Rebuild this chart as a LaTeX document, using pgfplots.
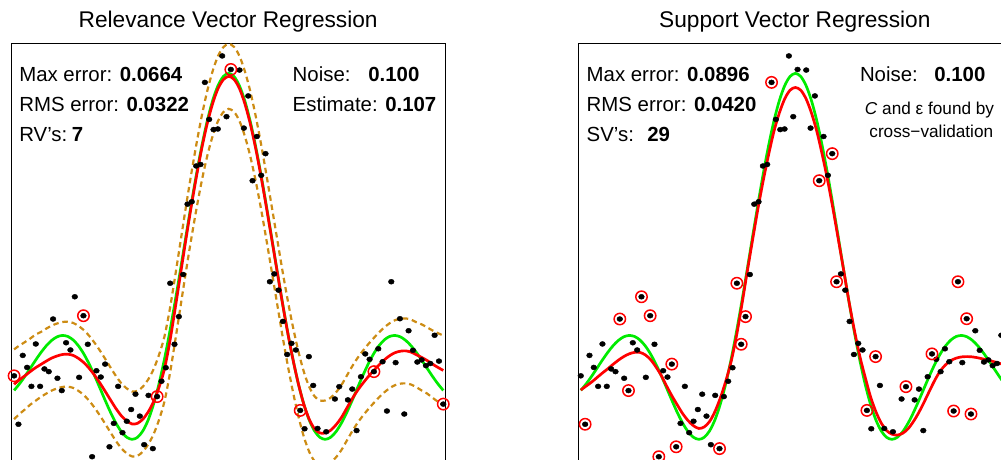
\documentclass[border=0pt]{standalone}
\usepackage{pgfplots}
\pgfplotsset{compat=1.18}
\usepackage{pgfplotstable}
\usepackage{fontspec}
\setmainfont{Liberation Sans}

\definecolor{sincgreen}{RGB}{0,235,0}
\definecolor{fitred}{RGB}{255,0,0}
\definecolor{bandorange}{RGB}{205,140,20}

% x, true sinc (g), RVR fit (r), RVR upper/lower error bars (u,l), SVR fit (s)
\pgfplotstableread{
x g r u l s
-10 -0.0544 -0.034 0.082 -0.150 -0.053
-9.75 -0.0327 -0.019 0.095 -0.133 -0.040
-9.5 -0.0079 -0.006 0.106 -0.118 -0.027
-9.25 0.0188 0.008 0.118 -0.102 -0.012
-9 0.0458 0.021 0.131 -0.089 0.003
-8.75 0.0714 0.032 0.140 -0.076 0.017
-8.5 0.0939 0.043 0.151 -0.065 0.032
-8.25 0.1118 0.053 0.161 -0.055 0.046
-8 0.1237 0.060 0.168 -0.048 0.058
-7.75 0.1283 0.065 0.173 -0.043 0.067
-7.5 0.1251 0.066 0.174 -0.042 0.072
-7.25 0.1135 0.062 0.170 -0.046 0.072
-7 0.0939 0.052 0.160 -0.056 0.064
-6.75 0.0667 0.038 0.146 -0.070 0.048
-6.5 0.0331 0.019 0.127 -0.089 0.024
-6.25 -0.0053 -0.004 0.104 -0.112 -0.005
-6 -0.0466 -0.030 0.078 -0.138 -0.040
-5.75 -0.0884 -0.058 0.050 -0.166 -0.073
-5.5 -0.1283 -0.087 0.021 -0.195 -0.103
-5.25 -0.1636 -0.115 -0.007 -0.223 -0.132
-5 -0.1918 -0.139 -0.031 -0.247 -0.155
-4.75 -0.2104 -0.156 -0.048 -0.264 -0.172
-4.5 -0.2172 -0.166 -0.058 -0.274 -0.181
-4.25 -0.2106 -0.164 -0.056 -0.272 -0.176
-4 -0.1892 -0.150 -0.042 -0.258 -0.158
-3.75 -0.1524 -0.126 -0.018 -0.234 -0.125
-3.5 -0.1002 -0.092 0.016 -0.200 -0.080
-3.25 -0.0333 -0.045 0.063 -0.153 -0.025
-3 0.0470 0.015 0.123 -0.093 0.040
-2.75 0.1388 0.105 0.213 -0.003 0.125
-2.5 0.2394 0.215 0.323 0.107 0.228
-2.25 0.3458 0.330 0.438 0.222 0.338
-2 0.4546 0.445 0.553 0.337 0.444
-1.75 0.5623 0.555 0.663 0.447 0.548
-1.5 0.6650 0.658 0.766 0.550 0.643
-1.25 0.7592 0.752 0.860 0.644 0.729
-1 0.8415 0.833 0.941 0.725 0.807
-0.75 0.9089 0.899 1.007 0.791 0.868
-0.5 0.9589 0.949 1.057 0.841 0.915
-0.25 0.9896 0.979 1.087 0.871 0.944
0 1.0000 0.990 1.098 0.882 0.953
0.25 0.9896 0.980 1.088 0.872 0.944
0.5 0.9589 0.950 1.058 0.842 0.915
0.75 0.9089 0.900 1.008 0.792 0.868
1 0.8415 0.834 0.942 0.726 0.807
1.25 0.7592 0.753 0.861 0.645 0.730
1.5 0.6650 0.660 0.768 0.552 0.645
1.75 0.5623 0.558 0.666 0.450 0.550
2 0.4546 0.452 0.560 0.344 0.448
2.25 0.3458 0.345 0.453 0.237 0.345
2.5 0.2394 0.238 0.346 0.130 0.240
2.75 0.1388 0.138 0.246 0.030 0.145
3 0.0470 0.047 0.155 -0.061 0.060
3.25 -0.0333 -0.033 0.075 -0.141 -0.010
3.5 -0.1002 -0.100 0.008 -0.208 -0.075
3.75 -0.1524 -0.150 -0.042 -0.258 -0.125
4 -0.1892 -0.182 -0.074 -0.290 -0.163
4.25 -0.2106 -0.196 -0.088 -0.304 -0.188
4.5 -0.2172 -0.196 -0.088 -0.304 -0.200
4.75 -0.2104 -0.187 -0.079 -0.295 -0.203
5 -0.1918 -0.169 -0.061 -0.277 -0.197
5.25 -0.1636 -0.145 -0.037 -0.253 -0.182
5.5 -0.1283 -0.114 -0.006 -0.222 -0.158
5.75 -0.0884 -0.083 0.025 -0.191 -0.128
6 -0.0466 -0.055 0.053 -0.163 -0.093
6.25 -0.0053 -0.031 0.077 -0.139 -0.056
6.5 0.0331 -0.009 0.099 -0.117 -0.020
6.75 0.0667 0.011 0.119 -0.097 0.010
7 0.0939 0.030 0.138 -0.078 0.031
7.25 0.1135 0.047 0.155 -0.061 0.045
7.5 0.1251 0.061 0.169 -0.047 0.053
7.75 0.1283 0.071 0.179 -0.037 0.057
8 0.1237 0.076 0.184 -0.032 0.058
8.25 0.1118 0.077 0.185 -0.031 0.057
8.5 0.0939 0.073 0.181 -0.035 0.054
8.75 0.0714 0.064 0.172 -0.044 0.050
9 0.0458 0.055 0.165 -0.055 0.046
9.25 0.0188 0.045 0.155 -0.065 0.041
9.5 -0.0079 0.033 0.145 -0.079 0.036
9.75 -0.0327 0.022 0.136 -0.092 0.030
10 -0.0544 0.012 0.128 -0.104 0.024
}\curves

% noisy training data
\pgfplotstableread{
x y
-10.000 -0.006
-9.798 -0.167
-9.596 0.062
-9.394 0.022
-9.192 -0.041
-8.990 0.100
-8.788 -0.041
-8.586 0.017
-8.384 0.008
-8.182 0.183
-7.980 -0.014
-7.778 -0.055
-7.576 0.104
-7.374 0.080
-7.172 0.257
-6.970 -0.011
-6.768 0.194
-6.566 0.099
-6.364 -0.275
-6.162 0.011
-5.960 -0.010
-5.758 0.033
-5.556 -0.242
-5.354 -0.164
-5.152 -0.041
-4.949 -0.195
-4.747 -0.157
-4.545 -0.118
-4.343 -0.067
-4.141 -0.140
-3.939 -0.235
-3.737 -0.071
-3.535 -0.248
-3.333 -0.075
-3.131 -0.024
-2.929 0.021
-2.727 0.302
-2.525 0.099
-2.323 0.191
-2.121 0.331
-1.919 0.565
-1.717 0.573
-1.515 0.692
-1.313 0.697
-1.111 0.970
-0.909 0.847
-0.707 0.813
-0.505 0.815
-0.303 1.058
-0.101 0.856
0.101 1.013
0.505 1.011
0.707 0.818
0.909 0.925
1.111 0.643
1.313 0.790
1.515 0.661
1.717 0.733
1.919 0.307
2.121 0.333
2.323 0.279
2.525 0.175
2.727 0.065
2.929 0.102
3.131 0.080
3.333 -0.121
3.535 -0.182
3.737 0.058
3.939 -0.038
4.141 -0.181
4.545 -0.192
4.949 -0.083
5.152 -0.042
5.556 -0.086
5.758 -0.050
5.960 -0.188
6.162 -0.009
6.364 0.067
6.566 0.049
6.768 0.008
6.970 0.084
7.172 0.041
7.374 -0.123
7.576 0.307
7.778 0.038
7.980 0.184
8.182 -0.133
8.384 0.144
8.586 0.079
8.788 0.040
8.990 0.047
9.192 0.028
9.394 0.035
9.596 0.129
9.798 0.043
10.000 -0.100
}\pts

% relevance vectors
\pgfplotstableread{
x y
-10.000 -0.006
-6.768 0.194
-3.333 -0.075
0.101 1.013
3.333 -0.121
6.768 0.008
10.000 -0.100
}\rvs

% support vectors (visible ones)
\pgfplotstableread{
x y
-9.798 -0.167
-8.182 0.183
-7.778 -0.055
-7.172 0.257
-6.768 0.194
-6.364 -0.275
-5.758 0.033
-5.556 -0.242
-3.535 -0.248
-2.727 0.302
-2.525 0.099
-2.323 0.191
-1.111 0.970
1.111 0.643
1.717 0.733
1.919 0.307
3.333 -0.121
3.737 0.058
5.152 -0.042
6.364 0.067
7.374 -0.123
7.576 0.307
7.980 0.184
8.182 -0.133
}\svs

\pgfplotsset{
  panel/.style={
    scale only axis, width=433.7pt, height=451pt,
    xmin=-10.13, xmax=10.08, ymin=-0.4, ymax=1.1,
    ticks=none,
    axis line style={line width=0.9pt, black},
    title style={font=\fontsize{22.7}{27}\selectfont, at={(0.5,1)}, anchor=base, yshift=10pt},
  },
  dots/.style={only marks, mark=*, mark size=2.5pt, black, mark options={xscale=1.15}},
  circ/.style={only marks, mark=o, mark size=5.7pt, fitred, mark options={line width=1.5pt}},
  band/.style={bandorange, line width=2.2pt, dash pattern=on 5.5pt off 3.8pt, smooth},
}

\begin{document}
\begin{tikzpicture}
\useasboundingbox (0,0) rectangle (1001pt,459pt);
\clip (0,0) rectangle (1001pt,459pt);

\begin{axis}[panel, at={(11.3pt,-35.3pt)}, anchor=south west,
  title={Relevance Vector Regression}]
  \addplot[band] table[x=x,y=u]{\curves};
  \addplot[band] table[x=x,y=l]{\curves};
  \addplot[sincgreen, line width=2.7pt, smooth] table[x=x,y=g]{\curves};
  \addplot[fitred, line width=2.7pt, smooth] table[x=x,y=r]{\curves};
  \addplot[dots] table[x=x,y=y]{\pts};
  \addplot[circ] table[x=x,y=y]{\rvs};
\end{axis}

\begin{axis}[panel, at={(578pt,-35.3pt)}, anchor=south west,
  title={Support Vector Regression}]
  \addplot[sincgreen, line width=2.7pt, smooth] table[x=x,y=g]{\curves};
  \addplot[fitred, line width=2.7pt, smooth] table[x=x,y=s]{\curves};
  \addplot[dots] table[x=x,y=y]{\pts};
  \addplot[circ] table[x=x,y=y]{\svs};
\end{axis}

\begin{scope}[every node/.style={inner sep=0pt, outer sep=0pt, font=\fontsize{20.4}{24}\selectfont}]
  % left panel annotations
  \node[anchor=base west] at (19.3pt,377.3pt) {Max error: \textbf{0.0664}};
  \node[anchor=base west] at (19.3pt,347.5pt) {RMS error: \textbf{0.0322}};
  \node[anchor=base west] at (19.3pt,318pt) {RV’s:\hspace{4.5pt}\textbf{7}};
  \node[anchor=base west] at (292.7pt,377.3pt) {Noise:};
  \node[anchor=base west] at (368.3pt,377.3pt) {\textbf{0.100}};
  \node[anchor=base west] at (292.7pt,347.5pt) {Estimate: \textbf{0.107}};
  % right panel annotations
  \node[anchor=base west] at (586.7pt,377.3pt) {Max error: \textbf{0.0896}};
  \node[anchor=base west] at (586.7pt,347.5pt) {RMS error: \textbf{0.0420}};
  \node[anchor=base west] at (586.7pt,318pt) {SV’s:};
  \node[anchor=base west] at (647.3pt,318pt) {\textbf{29}};
  \node[anchor=base west] at (860pt,377.3pt) {Noise:};
  \node[anchor=base west] at (934.3pt,377.3pt) {\textbf{0.100}};
  \node[anchor=base, font=\fontsize{17.2}{20}\selectfont] at (929.5pt,344.7pt) {\textit{C} and ε found by};
  \node[anchor=base, font=\fontsize{17.2}{20}\selectfont] at (931.3pt,321.7pt) {cross−validation};
\end{scope}
\end{tikzpicture}
\end{document}
